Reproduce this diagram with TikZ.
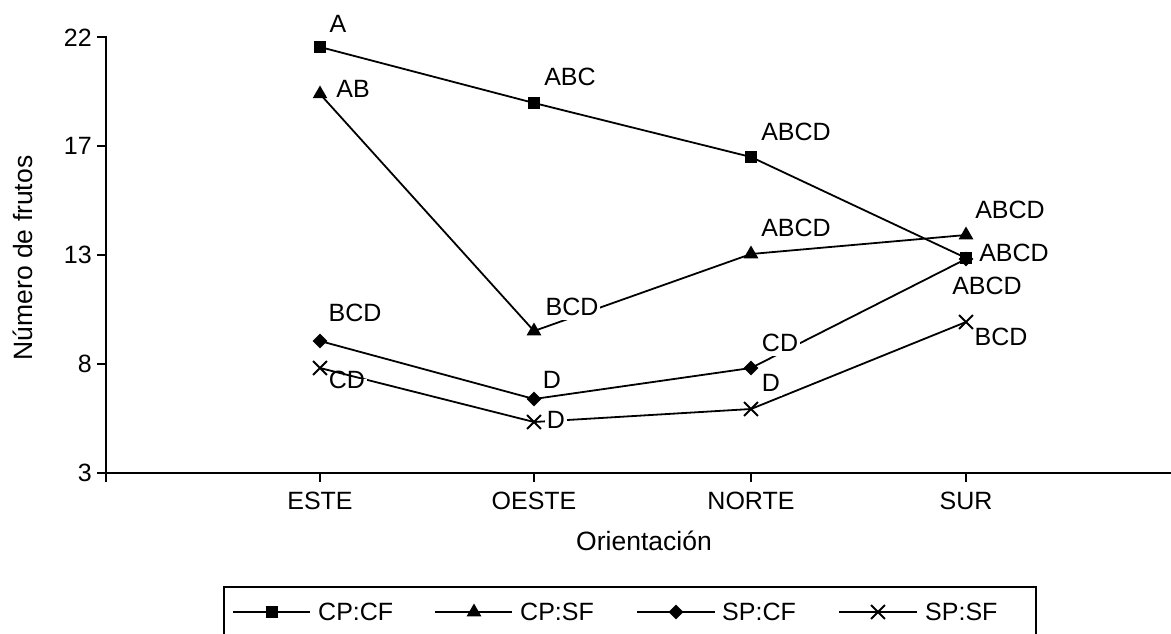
\documentclass[tikz,border=0pt]{standalone}
\usepackage{fontspec}
\setmainfont{Liberation Sans}
\usetikzlibrary{shapes.geometric,shapes.misc}
\begin{document}
\begin{tikzpicture}[x=1pt,y=-1pt,
  axisline/.style={line width=2.4pt},
  dataline/.style={line width=1.8pt, line join=miter},
  lbl/.style={fill=white, inner sep=2pt, text height=0.72em, text depth=0.2em, anchor=base, font=\fontsize{25}{29}\selectfont},
  ticklbl/.style={inner sep=0pt, font=\fontsize{25}{29}\selectfont},
  titlelbl/.style={inner sep=0pt, font=\fontsize{26.5}{30}\selectfont},
  leglbl/.style={inner sep=0pt, anchor=base west, font=\fontsize{25}{29}\selectfont},
  msq/.style={rectangle, fill=black, minimum size=12.5pt, inner sep=0pt},
  mtri/.style={regular polygon, regular polygon sides=3, fill=black, minimum size=17pt, inner sep=0pt},
  mdia/.style={diamond, fill=black, minimum width=15pt, minimum height=15pt, inner sep=0pt},
  mx/.style={cross out, draw=black, line width=1.8pt, minimum size=12pt, inner sep=0pt}]
\useasboundingbox (0,0) rectangle (1171,634);

% axes
\coordinate (ytop) at (105.7,36);
\coordinate (ybot) at (105.7,482);
\coordinate (xleft) at (105.7,472.7);
\coordinate (xright) at (1171,472.7);
\draw[axisline] (ytop) -- (ybot);
\draw[axisline] (xleft) -- (xright);

% y ticks
\foreach \v/\yy in {22/37.3,17/146.2,13/255,8/363.9,3/472.7}{
  \coordinate (yt\v) at (105.7,\yy);
  \coordinate (ytl\v) at (97,\yy);
  \draw[axisline] (yt\v) -- (ytl\v);
  \node[ticklbl, anchor=east] (ylab\v) at (92,\yy) {\v};
}
% x ticks
\foreach \n/\xx/\t in {e/320/ESTE,o/534/OESTE,n/751/NORTE,s/966/SUR}{
  \coordinate (xt\n) at (\xx,472.7);
  \coordinate (xtb\n) at (\xx,482);
  \draw[axisline] (xt\n) -- (xtb\n);
  \node[ticklbl] (xlab\n) at (\xx,500.5) {\t};
}
\node[titlelbl, rotate=90] (ytitle) at (23,258) {Número de frutos};
\node[titlelbl] (xtitle) at (644,541) {Orientación};

% data points
\coordinate (a1) at (320,47);  \coordinate (a2) at (534,103); \coordinate (a3) at (751,157); \coordinate (a4) at (966,258);
\coordinate (b1) at (320,94);  \coordinate (b2) at (534,331); \coordinate (b3) at (751,254); \coordinate (b4) at (966,235);
\coordinate (c1) at (320,341); \coordinate (c2) at (534,399); \coordinate (c3) at (751,368); \coordinate (c4) at (966,259);
\coordinate (d1) at (320,368); \coordinate (d2) at (534,422); \coordinate (d3) at (751,409); \coordinate (d4) at (966,322);

\draw[dataline] (a1) -- (a2) -- (a3) -- (a4);
\draw[dataline] (b1) -- (b2) -- (b3) -- (b4);
\draw[dataline] (c1) -- (c2) -- (c3) -- (c4);
\draw[dataline] (d1) -- (d2) -- (d3) -- (d4);

% labels
\node[lbl] (la1) at (338,32.6) {A};
\node[lbl] (lb1) at (353,97.6) {AB};
\node[lbl] (lc1) at (355,321.6) {BCD};
\node[lbl] (ld1) at (347,388.6) {CD};
\node[lbl] (la2) at (570,85.6) {ABC};
\node[lbl] (lb2) at (572,315.6) {BCD};
\node[lbl] (lc2) at (552,388.6) {D};
\node[lbl] (ld2) at (556,428.6) {D};
\node[lbl] (la3) at (796,140.6) {ABCD};
\node[lbl] (lb3) at (796,236.6) {ABCD};
\node[lbl] (lc3) at (780,351.6) {CD};
\node[lbl] (ld3) at (771,391.6) {D};
\node[lbl] (lb4) at (1010,218.6) {ABCD};
\node[lbl] (la4) at (1014,261.6) {ABCD};
\node[lbl] (lc4) at (987,294.6) {ABCD};
\node[lbl] (ld4) at (1001,345.6) {BCD};

% markers
\foreach \i in {1,2,3,4}{
  \node[msq] (ma\i) at (a\i) {};
  \node[mtri] (mb\i) at (b\i) {};
  \node[mdia] (mc\i) at (c\i) {};
  \node[mx] (md\i) at (d\i) {};
}

% legend
\coordinate (lg1) at (224,634);
\coordinate (lg2) at (224,587);
\coordinate (lg3) at (1036,587);
\coordinate (lg4) at (1036,634);
\draw[line width=2pt] (lg1) -- (lg2) -- (lg3) -- (lg4);

\coordinate (k1s) at (233,612); \coordinate (k1e) at (310,612);
\coordinate (k2s) at (435,612); \coordinate (k2e) at (512,612);
\coordinate (k3s) at (637,612); \coordinate (k3e) at (715,612);
\coordinate (k4s) at (839,612); \coordinate (k4e) at (917,612);
\draw[dataline] (k1s) -- (k1e);
\draw[dataline] (k2s) -- (k2e);
\draw[dataline] (k3s) -- (k3e);
\draw[dataline] (k4s) -- (k4e);
\node[msq] (km1) at (272,612) {};
\node[mtri] (km2) at (474,612) {};
\node[mdia] (km3) at (676,612) {};
\node[mx] (km4) at (878,612) {};
\node[leglbl] (kt1) at (318,620.6) {CP:CF};
\node[leglbl] (kt2) at (520,620.6) {CP:SF};
\node[leglbl] (kt3) at (722,620.6) {SP:CF};
\node[leglbl] (kt4) at (925,620.6) {SP:SF};
\end{tikzpicture}
\end{document}
